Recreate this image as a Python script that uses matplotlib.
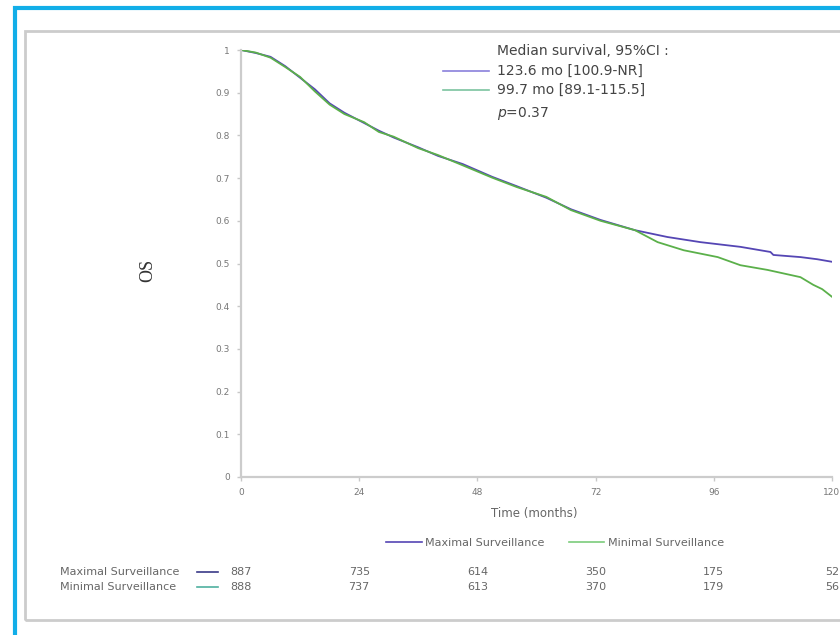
import numpy as np
import matplotlib
matplotlib.use("Agg")
import matplotlib.pyplot as plt
import matplotlib.transforms as mtransforms
from matplotlib.lines import Line2D
from matplotlib.patches import Rectangle

# survival curves (months, OS)
t_max = [0, 3, 6, 9, 12, 15, 18, 21, 25, 28, 31, 36, 40, 45, 51, 56, 62, 67, 73,
         80, 86.6, 93.3, 101.4, 107.5, 108.1, 113.6, 117, 120]
s_max = [1, 0.993, 0.984, 0.962, 0.935, 0.908, 0.875, 0.853, 0.829, 0.811, 0.795, 0.772,
         0.752, 0.733, 0.703, 0.681, 0.654, 0.627, 0.602,
         0.578, 0.562, 0.550, 0.539, 0.527, 0.520, 0.515, 0.510, 0.504]
t_min = [0, 3, 6, 9, 12, 15, 18, 21, 25, 28, 31, 36, 40, 45, 51, 56, 62, 67, 73,
         80, 84.6, 89.9, 96.8, 101.4, 106.9, 113.6, 116.2, 118, 120]
s_min = [1, 0.994, 0.982, 0.960, 0.937, 0.903, 0.872, 0.850, 0.831, 0.808, 0.797, 0.770,
         0.754, 0.730, 0.701, 0.679, 0.656, 0.625, 0.600,
         0.578, 0.550, 0.531, 0.515, 0.496, 0.485, 0.468, 0.450, 0.440, 0.422]

# numbers at risk
risk_times = [0, 24, 48, 72, 96, 120]
risk_max = [887, 735, 614, 350, 175, 52]
risk_min = [888, 737, 613, 370, 179, 56]

x_ticks = [0, 24, 48, 72, 96, 120]
y_ticks = [0, 0.1, 0.2, 0.3, 0.4, 0.5, 0.6, 0.7, 0.8, 0.9, 1]
y_labels = ['0', '0.1', '0.2', '0.3', '0.4', '0.5', '0.6', '0.7', '0.8', '0.9', '1']

purple = '#5546b4'
green = '#5bb04a'
W, H = 840, 635

fig = plt.figure(figsize=(8.4, 6.35), dpi=100)

def fx(px):
    return px / W

def fy(py):
    return 1 - py / H

# frames
fig.patches.append(Rectangle((fx(15), fy(660)), fx(900), 660 / H - 8 / H, transform=fig.transFigure,
                             fill=False, edgecolor='#12aee8', linewidth=3))
fig.patches.append(Rectangle((fx(25), fy(620)), fx(900), (620 - 31) / H, transform=fig.transFigure,
                             fill=False, edgecolor='#cccccc', linewidth=2))

ax = fig.add_axes([fx(241), fy(477), fx(832) - fx(241), fy(50) - fy(477)])
ax.plot(t_max, s_max, color=purple, lw=1.3)
ax.plot(t_min, s_min, color=green, lw=1.3)
ax.set_xlim(0, 120)
ax.set_ylim(0, 1)
ax.set_xticks(x_ticks)
ax.set_yticks(y_ticks)
ax.set_yticklabels(y_labels)
ax.tick_params(labelsize=6.5, colors='#c8c8c8', labelcolor='#777777', length=3, width=1, pad=5)
for side in ['top', 'right']:
    ax.spines[side].set_visible(False)
for side in ['left', 'bottom']:
    ax.spines[side].set_color('#cccccc')
    ax.spines[side].set_linewidth(1.6)
ax.patch.set_alpha(0)

# y label
fig.text(fx(148), fy(270), 'OS', rotation=90, ha='center', va='center',
         family='Liberation Serif', fontsize=13, color='#333333')
fig.text(fx(534), fy(514), 'Time (months)', ha='center', va='center', fontsize=8.5, color='#666666')

# median annotation
tx = fx(497)
fig.text(tx, fy(51), 'Median survival, 95%CI :', fontsize=10, color='#444444', va='center')
fig.text(tx, fy(71), '123.6 mo [100.9-NR]', fontsize=10, color='#444444', va='center')
fig.text(tx, fy(90), '99.7 mo [89.1-115.5]', fontsize=10, color='#444444', va='center')
fig.text(tx, fy(114), r'$p$=0.37', fontsize=10, color='#444444', va='center')
fig.add_artist(Line2D([fx(443), fx(489)], [fy(71), fy(71)], color='#8a80dc', lw=1.2))
fig.add_artist(Line2D([fx(443), fx(489)], [fy(90), fy(90)], color='#7cc4a0', lw=1.2))

# bottom legend
handles = [Line2D([], [], color=purple, lw=1.2), Line2D([], [], color='#7ccc7c', lw=1.2)]
fig.legend(handles, ['Maximal Surveillance', 'Minimal Surveillance'], loc='center',
           bbox_to_anchor=(fx(555), fy(543)), ncol=2, frameon=False, fontsize=8,
           handlelength=3.2, columnspacing=2.2, handletextpad=0.3, labelcolor='#666666')

# numbers at risk
trans = mtransforms.blended_transform_factory(ax.transData, fig.transFigure)
rows = [('Maximal Surveillance', risk_max, '#3a3a88', 572),
        ('Minimal Surveillance', risk_min, '#4fb0a0', 587)]
for name, vals, col, py in rows:
    fig.text(fx(60), fy(py), name, fontsize=8, color='#666666', va='center')
    fig.add_artist(Line2D([fx(197), fx(218)], [fy(py), fy(py)], color=col, lw=1.2))
    for t, v in zip(risk_times, vals):
        fig.text(t, fy(py), str(v), transform=trans, fontsize=8, color='#666666',
                 ha='center', va='center')

fig.savefig('out.png', dpi=100)
